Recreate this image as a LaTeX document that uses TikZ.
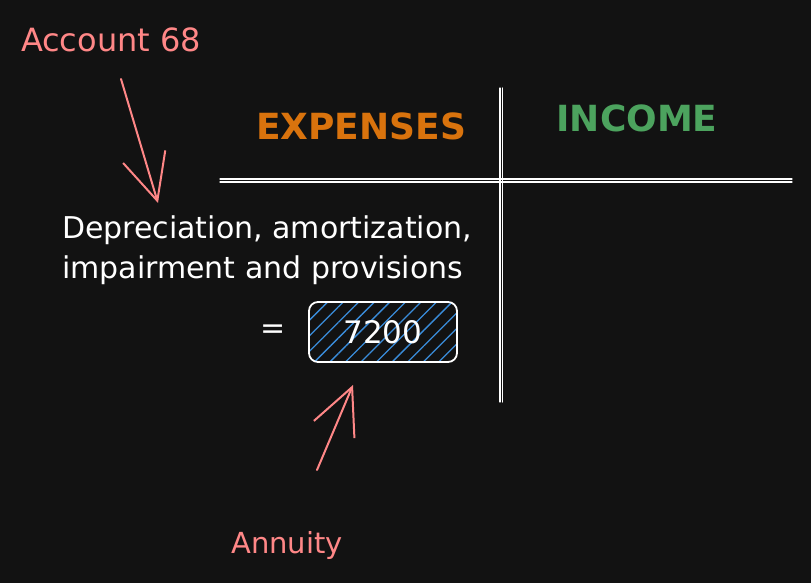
\documentclass[tikz,border=0pt]{standalone}
\usepackage{fontspec}
\setmainfont{DejaVu Sans}
\usetikzlibrary{positioning, arrows.meta, patterns.meta}
\definecolor{bgdark}{HTML}{121212}
\definecolor{notepink}{HTML}{FF8787}
\definecolor{exporange}{HTML}{D9730D}
\definecolor{incgreen}{HTML}{4CA35E}
\definecolor{hatchblue}{HTML}{3A8DDB}

\begin{document}
\begin{tikzpicture}[x=1pt,y=-1pt,line cap=round]

	\tikzstyle{every node}=[inner sep=0pt, outer sep=0pt]
	\tikzstyle{note}=[text=notepink, font=\fontsize{29}{34}\selectfont]
	\tikzstyle{head}=[font=\fontsize{36}{40}\selectfont\bfseries]
	\tikzstyle{body}=[text=white, font=\fontsize{30}{40}\selectfont, align=left]
	\tikzstyle{pointer}=[notepink, line width=2pt, -{Straight Barb[length=46pt,width=44pt,line width=2pt]}]
	\tikzstyle{rule}=[white, line width=1.1pt]
	\tikzstyle{amount}=[draw=white, line width=1.8pt, rounded corners=9pt, pattern={Lines[angle=45,distance=11pt,line width=1.3pt]}, pattern color=hatchblue, minimum width=148pt, minimum height=60pt, text=white, font=\fontsize{31}{34}\selectfont]

	% background, margins included
	\fill[bgdark] (0,0) rectangle (811,583);

	% T account
	\coordinate (T top) at (500,88);
	\coordinate (T bottom) at (500,402);
	\coordinate (T left) at (220,182);
	\coordinate (T right) at (792,182);
	\draw[rule] (T top) -- (T bottom);
	\draw[rule] ([xshift=2.5pt]T top) -- ([xshift=2.5pt]T bottom);
	\draw[rule] (T left) -- (T right);
	\draw[rule] ([yshift=3pt]T left) -- ([yshift=3pt]T right);

	\node[head, text=exporange] (expenses) at (361,126) {EXPENSES};
	\node[head, text=incgreen]  (income)   at (637,118) {INCOME};

	\node[body, anchor=north west] (items) at (62,216) {Depreciation, amortization,\\impairment and provisions};
	\node[amount] (amount) at (383,332) {7200};
	\node[body, left=23pt of amount] (equals) {=};

	% annotations
	\node[note, anchor=west, font=\fontsize{32}{36}\selectfont] (account) at (21,40) {Account 68};
	\node[note] (annuity) at (287,545) {Annuity};
	\coordinate (account tail) at (121,79);
	\coordinate (account tip) at (158,203);
	\coordinate (annuity tail) at (317,470);
	\coordinate (annuity tip) at (353,385);
	\draw[pointer] (account tail) -- (account tip);
	\draw[pointer] (annuity tail) -- (annuity tip);

\end{tikzpicture}
\end{document}
